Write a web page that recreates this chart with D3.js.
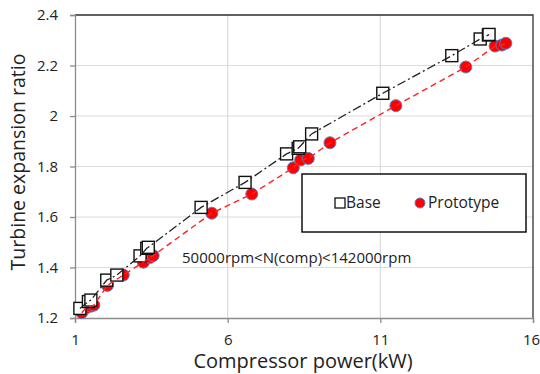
<!DOCTYPE html>
<html>
<head>
<meta charset="utf-8">
<script src="https://cdn.jsdelivr.net/npm/d3@7"></script>
<style>
  body { margin: 0; background: #fff; }
  text { font-family: "Open Sans", sans-serif; fill: #222; }
</style>
</head>
<body>
<div id="chart"></div>
<script>
const width = 540;
const height = 374;

// Base series (compressor power kW, turbine expansion ratio)
const basePower = [1.16, 1.44, 1.52, 2.04, 2.37, 3.13, 3.35, 3.40, 5.13, 6.57, 7.93, 8.31, 8.36, 8.75, 11.08, 13.34, 14.27, 14.54, 14.56];
const baseRatio = [1.238, 1.265, 1.271, 1.350, 1.370, 1.446, 1.476, 1.480, 1.638, 1.737, 1.850, 1.872, 1.878, 1.929, 2.090, 2.239, 2.305, 2.321, 2.323];

// Prototype series
const protoPower = [1.22, 1.36, 1.52, 1.62, 2.06, 2.58, 3.24, 3.46, 3.56, 5.48, 6.79, 8.15, 8.39, 8.64, 9.35, 11.51, 13.80, 14.76, 14.98, 15.11];
const protoRatio = [1.221, 1.240, 1.247, 1.251, 1.329, 1.370, 1.421, 1.440, 1.447, 1.615, 1.691, 1.795, 1.826, 1.832, 1.894, 2.041, 2.194, 2.277, 2.281, 2.288];

const xTicks = [1, 6, 11, 16];
const yTicks = [1.2, 1.4, 1.6, 1.8, 2, 2.2, 2.4];

const seriesNames = ['Base', 'Prototype'];
const annotation = '50000rpm<N(comp)<142000rpm';

const margin = { top: 15, right: 7, bottom: 56, left: 75 };

const svg = d3.select('#chart').append('svg')
  .attr('width', width)
  .attr('height', height);

const x = d3.scaleLinear().domain([1, 16]).range([margin.left, width - margin.right]);
const y = d3.scaleLinear().domain([1.2, 2.4]).range([height - margin.bottom, margin.top]);

// gridlines
svg.append('g')
  .selectAll('line')
  .data(yTicks.slice(1))
  .enter()
  .append('line')
  .attr('x1', x(1))
  .attr('x2', x(16))
  .attr('y1', d => y(d))
  .attr('y2', d => y(d))
  .attr('stroke', '#dcdcdc')
  .attr('stroke-width', 1.2);

svg.append('g')
  .selectAll('line')
  .data(xTicks.slice(1, -1))
  .enter()
  .append('line')
  .attr('x1', d => x(d))
  .attr('x2', d => x(d))
  .attr('y1', y(1.2))
  .attr('y2', y(2.4))
  .attr('stroke', '#dcdcdc')
  .attr('stroke-width', 1.2);

// plot frame: top and right are dark
svg.append('path')
  .attr('d', `M${x(1)},${y(2.4)}H${x(16)}V${y(1.2)}`)
  .attr('fill', 'none')
  .attr('stroke', '#333')
  .attr('stroke-width', 1.3);

// axes
const xAxis = svg.append('g')
  .attr('transform', `translate(0,${y(1.2)})`)
  .call(d3.axisBottom(x).tickValues(xTicks).tickSize(5).tickPadding(11).tickFormat(d3.format('d')));

const yAxis = svg.append('g')
  .attr('transform', `translate(${x(1)},0)`)
  .call(d3.axisLeft(y).tickValues(yTicks).tickSize(5).tickPadding(12).tickFormat(d => String(d)));

[xAxis, yAxis].forEach(a => {
  a.select('.domain').attr('stroke', '#8c8c8c').attr('stroke-width', 1.3);
  a.selectAll('.tick line').attr('stroke', '#8c8c8c').attr('stroke-width', 1.3);
  a.selectAll('.tick text')
    .style('font-family', '"Open Sans", sans-serif')
    .style('font-size', '15px')
    .attr('fill', '#222');
});
yAxis.selectAll('.tick line').attr('x2', 0).attr('x1', -5);
// keep the last x label inside the page
xAxis.selectAll('.tick text').filter(d => d === 16).attr('dx', -2);

// markers
const base = basePower.map((p, i) => ({ p, r: baseRatio[i] }));
const proto = protoPower.map((p, i) => ({ p, r: protoRatio[i] }));

svg.append('g')
  .selectAll('circle')
  .data(proto)
  .enter()
  .append('circle')
  .attr('cx', d => x(d.p))
  .attr('cy', d => y(d.r))
  .attr('r', 6)
  .attr('fill', '#ff0000')
  .attr('stroke', '#5b7fc7')
  .attr('stroke-width', 1);

svg.append('g')
  .selectAll('rect')
  .data(base)
  .enter()
  .append('rect')
  .attr('x', d => x(d.p) - 6)
  .attr('y', d => y(d.r) - 6)
  .attr('width', 12)
  .attr('height', 12)
  .attr('fill', '#fff')
  .attr('stroke', '#111')
  .attr('stroke-width', 1.4);

// connecting lines
const line = d3.line().x(d => x(d.p)).y(d => y(d.r));

svg.append('path')
  .datum(proto)
  .attr('d', line)
  .attr('fill', 'none')
  .attr('stroke', '#ff2020')
  .attr('stroke-width', 1.4)
  .attr('stroke-dasharray', '6,4');

svg.append('path')
  .datum(base)
  .attr('d', line)
  .attr('fill', 'none')
  .attr('stroke', '#222')
  .attr('stroke-width', 1.3)
  .attr('stroke-dasharray', '9,3,2,3');

// legend
const lg = svg.append('g').attr('transform', 'translate(302,174)');
lg.append('rect')
  .attr('width', 224)
  .attr('height', 58)
  .attr('fill', '#fff')
  .attr('stroke', '#111')
  .attr('stroke-width', 1.5);
lg.append('rect')
  .attr('x', 33).attr('y', 24)
  .attr('width', 10).attr('height', 10)
  .attr('fill', '#fff').attr('stroke', '#111').attr('stroke-width', 1.3);
lg.append('text')
  .attr('x', 44).attr('y', 34)
  .style('font-size', '15.5px')
  .text(seriesNames[0]);
lg.append('circle')
  .attr('cx', 118).attr('cy', 29).attr('r', 5)
  .attr('fill', '#ff0000').attr('stroke', '#5b7fc7').attr('stroke-width', 1);
lg.append('text')
  .attr('x', 126).attr('y', 34)
  .style('font-size', '15.5px')
  .text(seriesNames[1]);

// annotation
svg.append('text')
  .attr('x', 182)
  .attr('y', 263)
  .style('font-size', '15px')
  .text(annotation);

// axis titles
svg.append('text')
  .attr('x', 303)
  .attr('y', 368)
  .attr('text-anchor', 'middle')
  .style('font-size', '20px')
  .text('Compressor power(kW)');

svg.append('text')
  .attr('transform', 'translate(25,162) rotate(-90)')
  .attr('text-anchor', 'middle')
  .style('font-size', '19.5px')
  .text('Turbine expansion ratio');
</script>
</body>
</html>
